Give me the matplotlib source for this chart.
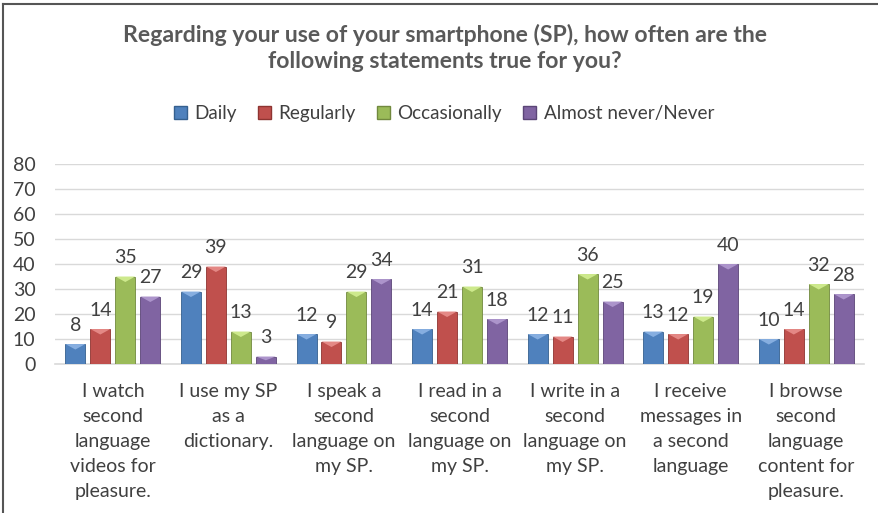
import matplotlib
matplotlib.use("Agg")
import matplotlib.pyplot as plt
from matplotlib.patches import Polygon, Rectangle
from matplotlib.lines import Line2D
import numpy as np

plt.rcParams['font.family'] = ['Lato', 'DejaVu Sans']

# data
categories = [
    "I watch\nsecond\nlanguage\nvideos for\npleasure.",
    "I use my SP\nas a\ndictionary.",
    "I speak a\nsecond\nlanguage on\nmy SP.",
    "I read in a\nsecond\nlanguage on\nmy SP.",
    "I write in a\nsecond\nlanguage on\nmy SP.",
    "I receive\nmessages in\na second\nlanguage",
    "I browse\nsecond\nlanguage\ncontent for\npleasure.",
]
series_names = ["Daily", "Regularly", "Occasionally", "Almost never/Never"]
daily = [8, 29, 12, 14, 12, 13, 10]
regularly = [14, 39, 9, 21, 11, 12, 14]
occasionally = [35, 13, 29, 31, 36, 19, 32]
never = [27, 3, 34, 18, 25, 40, 28]
yticks = [0, 10, 20, 30, 40, 50, 60, 70, 80]

colors = ["#4F81BD", "#C0504D", "#9BBB59", "#8064A2"]
light = ["#86AEE0", "#E48885", "#CDE98C", "#AC94CB"]
dark = ["#35608F", "#8E3431", "#71893E", "#5B4577"]
txt = "#404040"

fig = plt.figure(figsize=(8.79, 5.13), dpi=100)
ax = fig.add_axes([0.0626, 0.2904, 0.9204, 0.3899])

x = np.arange(len(categories))
width = 0.173
step = 0.216
allvals = [daily, regularly, occasionally, never]
for i, vals in enumerate(allvals):
    pos = x + (i - 1.5) * step
    ax.bar(pos, vals, width, color=colors[i], edgecolor=dark[i], linewidth=0.6, zorder=3)
    for p, v in zip(pos, vals):
        # bevel: light triangle on top
        d = min(2.2, v * 0.5)
        tri = Polygon([(p - width / 2, v), (p + width / 2, v), (p, v - d)],
                      closed=True, facecolor=light[i], edgecolor="none", zorder=4)
        ax.add_patch(tri)
        ax.text(p, v + 4.2, str(v), ha="center", va="bottom", fontsize=14, color=txt, zorder=5)

ax.set_ylim(0, 80)
ax.set_xlim(-0.5, len(categories) - 0.5)
ax.set_yticks(yticks)
ax.set_xticks(x)
ax.set_xticklabels(categories, fontsize=14, color=txt, linespacing=1.56)
ax.tick_params(axis="both", length=0, labelsize=14, labelcolor=txt)
ax.tick_params(axis="x", pad=14)
ax.tick_params(axis="y", pad=14)
ax.grid(axis="y", color="#D9D9D9", linewidth=1, zorder=0)
for s in ["top", "right", "left"]:
    ax.spines[s].set_visible(False)
ax.spines["bottom"].set_color("#D9D9D9")
ax.spines["bottom"].set_linewidth(1.2)

fig.text(0.506, 0.906, "Regarding your use of your smartphone (SP), how often are the\nfollowing statements true for you?",
         ha="center", va="center", fontsize=16.6, fontweight="bold", color="#595959", linespacing=1.27)

handles = [Rectangle((0, 0), 1, 1, facecolor=colors[i], edgecolor=dark[i]) for i in range(4)]
fig.legend(handles, series_names, loc="center", bbox_to_anchor=(0.505, 0.779), ncol=4, frameon=False,
           fontsize=13.6, labelcolor=txt, handlelength=0.7, handleheight=0.7, handletextpad=0.4,
           columnspacing=1.1)

# border of the chart frame (top and left visible)
fig.add_artist(Line2D([0.0034, 0.0034], [0, 0.993], transform=fig.transFigure, color="#555555", linewidth=1.5))
fig.add_artist(Line2D([0.0034, 1], [0.993, 0.993], transform=fig.transFigure, color="#555555", linewidth=1.5))

fig.savefig("out.png", dpi=100, facecolor="white")
